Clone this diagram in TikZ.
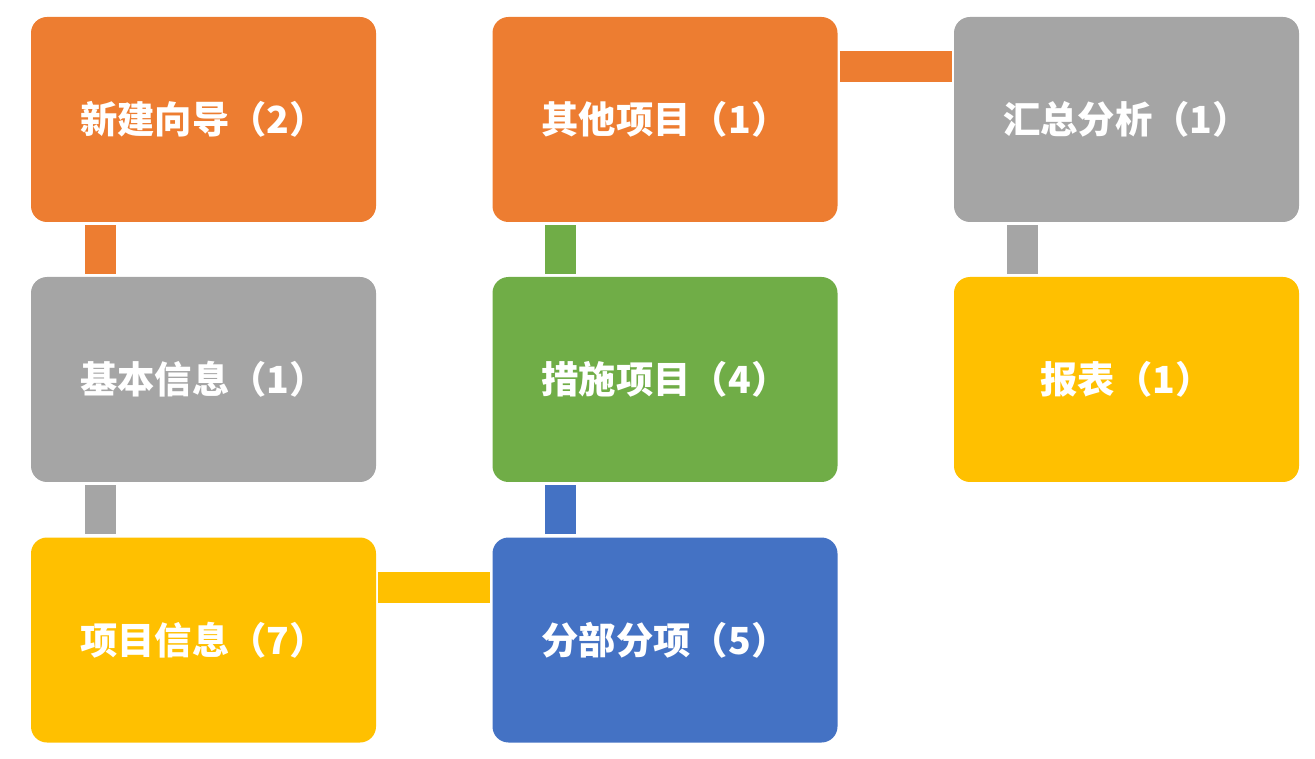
\documentclass[tikz,border=0pt]{standalone}
\usepackage{fontspec}
\newfontfamily\cjk{Noto Sans CJK SC}
\definecolor{cOrange}{HTML}{ED7D31}
\definecolor{cGray}{HTML}{A5A5A5}
\definecolor{cYellow}{HTML}{FFC000}
\definecolor{cBlue}{HTML}{4472C4}
\definecolor{cGreen}{HTML}{70AD47}
\tikzset{
  card/.style={fill=#1, draw=none, rounded corners=12pt, minimum width=258.75pt, minimum height=153.75pt, inner sep=0pt, text=white, font=\cjk\bfseries\fontsize{28pt}{34pt}\selectfont},
  bar/.style={draw=#1, line width=23.25pt}
}
\begin{document}
\begin{tikzpicture}[x=0.75pt,y=-0.75pt]
\useasboundingbox (0,0) rectangle (1315,759);
\node[card=cOrange] (xj) at (203.5,119.5) {新建向导（2）};
\node[card=cGray]   (jb) at (203.5,379.5) {基本信息（1）};
\node[card=cYellow] (xm) at (203.5,640) {项目信息（7）};
\node[card=cOrange] (qt) at (665,119.5) {其他项目（1）};
\node[card=cGreen]  (cs) at (665,379.5) {措施项目（4）};
\node[card=cBlue]   (fb) at (665,640) {分部分项（5）};
\node[card=cGray]   (hz) at (1126.5,119.5) {汇总分析（1）};
\node[card=cYellow] (bb) at (1126.5,379.5) {报表（1）};
% connectors
\draw[bar=cOrange] ([shift={(69.5,3)}]xj.south west) -- ([shift={(69.5,-3)}]jb.north west);
\draw[bar=cGray]   ([shift={(69.5,3)}]jb.south west) -- ([shift={(69.5,-3)}]xm.north west);
\draw[bar=cYellow] ([shift={(2,50.5)}]xm.north east) -- ([shift={(-2,50.5)}]fb.north west);
\draw[bar=cBlue]   ([shift={(68.5,-3)}]fb.north west) -- ([shift={(68.5,3)}]cs.south west);
\draw[bar=cGreen]  ([shift={(68.5,-3)}]cs.north west) -- ([shift={(68.5,3)}]qt.south west);
\draw[bar=cOrange] ([shift={(2,50)}]qt.north east) -- ([shift={(-2,50)}]hz.north west);
\draw[bar=cGray]   ([shift={(68.5,3)}]hz.south west) -- ([shift={(68.5,-3)}]bb.north west);
\end{tikzpicture}
\end{document}
